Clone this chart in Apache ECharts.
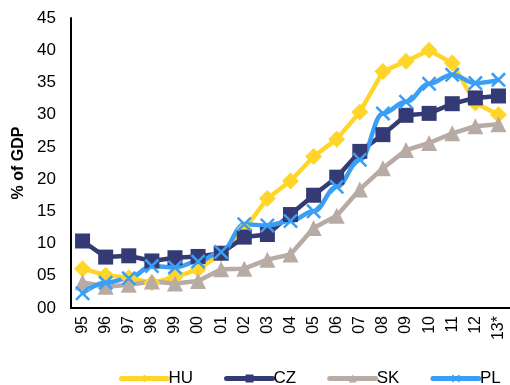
<!DOCTYPE html>
<html>
<head>
<meta charset="utf-8">
<style>
  html, body { margin: 0; padding: 0; background: #fff; }
  #chart { width: 510px; height: 385px; }
</style>
<script src="https://cdn.jsdelivr.net/npm/echarts@6/dist/echarts.min.js"></script>
</head>
<body>
<div id="chart"></div>
<script>
  var years = ['95', '96', '97', '98', '99', '00', '01', '02', '03', '04', '05', '06', '07', '08', '09', '10', '11', '12', '13*'];
  var yTicks = ['00', '05', '10', '15', '20', '25', '30', '35', '40', '45'];

  var huData = [6.1, 5.1, 4.7, 3.9, 4.8, 6.0, 8.4, 12.2, 17.0, 19.7, 23.5, 26.2, 30.4, 36.7, 38.3, 40.0, 38.0, 31.8, 30.0];
  var czData = [10.4, 7.9, 8.1, 7.3, 7.8, 8.0, 8.5, 11.0, 11.4, 14.5, 17.5, 20.3, 24.3, 26.9, 29.9, 30.2, 31.7, 32.6, 32.9];
  var skData = [4.0, 3.3, 3.6, 4.1, 3.8, 4.2, 6.0, 6.1, 7.5, 8.3, 12.4, 14.3, 18.4, 21.7, 24.5, 25.6, 27.1, 28.2, 28.5];
  var plData = [2.3, 3.9, 4.6, 6.5, 6.3, 7.2, 8.7, 13.0, 12.8, 13.5, 15.0, 18.8, 23.0, 30.2, 32.0, 34.8, 36.2, 34.9, 35.4];

  var crossPath = 'path://M0,1.2 L1.2,0 L10,8.8 L8.8,10 Z M8.8,0 L10,1.2 L1.2,10 L0,8.8 Z';

  var chart = echarts.init(document.getElementById('chart'));
  var font = 'Liberation Sans, Arial, sans-serif';

  function makeSeries(name, data, color, symbol, size, smooth) {
    return {
      name: name,
      type: 'line',
      data: data,
      smooth: smooth,
      smoothMonotone: 'x',
      symbol: symbol,
      symbolSize: size,
      showAllSymbol: true,
      lineStyle: { color: color, width: 4.5 },
      itemStyle: { color: color },
      emphasis: { disabled: true },
      animation: false
    };
  }

  var option = {
    backgroundColor: '#fff',
    animation: false,
    grid: { left: 71, right: 0, top: 18, bottom: 77 },
    legend: {
      bottom: -7,
      left: 114,
      width: 420,
      itemWidth: 46,
      itemHeight: 10,
      itemGap: 31,
      itemStyle: { borderWidth: 0 },
      lineStyle: { width: 5, cap: 'round' },
      textStyle: { color: '#000', fontSize: 17, fontFamily: font, padding: [0, 0, 0, -4] },
      data: ['HU', 'CZ', 'SK', 'PL']
    },
    xAxis: {
      type: 'category',
      data: years,
      boundaryGap: true,
      axisLine: { lineStyle: { color: '#000', width: 2 } },
      axisTick: { show: false },
      axisLabel: { rotate: 90, interval: 0, margin: 8, color: '#000', fontSize: 16, fontFamily: font }
    },
    yAxis: {
      type: 'value',
      min: 0,
      max: 45,
      interval: 5,
      name: '% of GDP',
      nameLocation: 'middle',
      nameGap: 42,
      nameTextStyle: { color: '#000', fontSize: 16, fontWeight: 'bold', fontFamily: font },
      axisLine: { show: true, lineStyle: { color: '#000', width: 2 } },
      axisTick: { show: false },
      splitLine: { show: false },
      axisLabel: {
        margin: 15,
        color: '#000',
        fontSize: 17,
        fontFamily: font,
        formatter: function (v) { return yTicks[v / 5]; }
      }
    },
    series: [
      makeSeries('HU', huData, '#FFD52A', 'diamond', 17, false),
      makeSeries('CZ', czData, '#343A73', 'rect', 15, false),
      makeSeries('SK', skData, '#B8ABA4', 'triangle', 16, false),
      makeSeries('PL', plData, '#3A9EF5', crossPath, 15, 0.4)
    ]
  };

  chart.setOption(option);
</script>
</body>
</html>
